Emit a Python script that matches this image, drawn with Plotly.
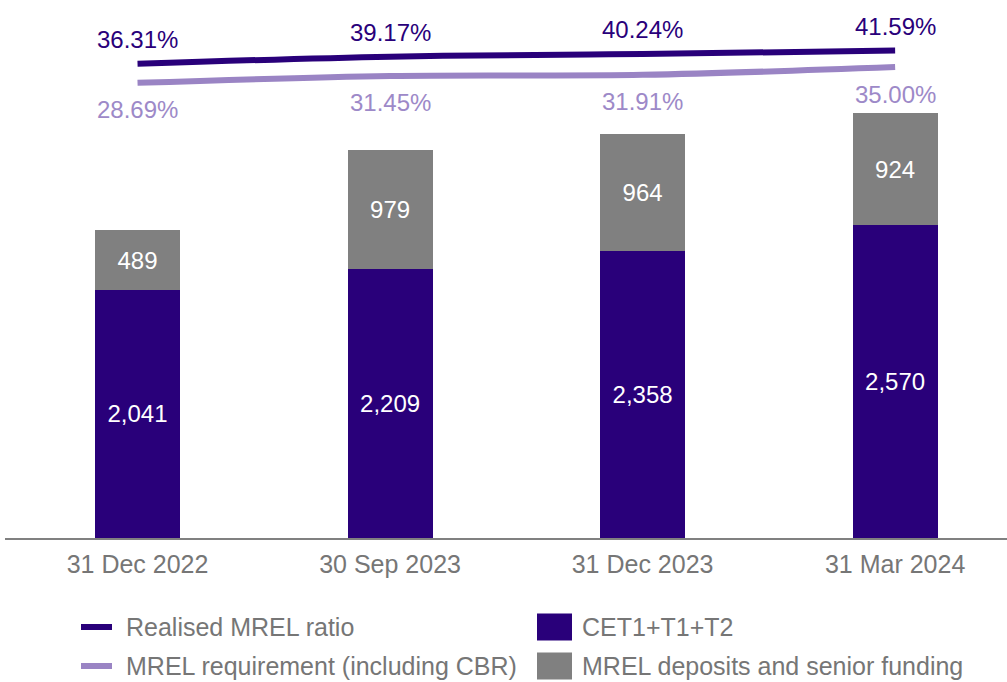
import plotly.graph_objects as go

categories = ["31 Dec 2022", "30 Sep 2023", "31 Dec 2023", "31 Mar 2024"]
cet1_t1_t2 = [2041, 2209, 2358, 2570]
mrel_deposits = [489, 979, 964, 924]
realised_mrel = [36.31, 39.17, 40.24, 41.59]
mrel_requirement = [28.69, 31.45, 31.91, 35.00]

DARK = "#29007A"
LIGHT = "#9A84C4"
GREY = "#808080"
TEXT = "#767676"
FONT = "Liberation Sans, Arial, sans-serif"

W, H = 1007, 682
ML, MR, MT, MB = 5, 0, 0, 144
PLOT_H = H - MT - MB

fig = go.Figure()

fig.add_trace(go.Bar(
    x=categories, y=cet1_t1_t2, name="CET1+T1+T2",
    marker=dict(color=DARK, line=dict(width=0)), width=0.337,
    text=[f"{v:,}" for v in cet1_t1_t2], textposition="inside",
    insidetextanchor="middle", textfont=dict(color="white", size=24, family=FONT),
    constraintext="none", showlegend=False,
))
fig.add_trace(go.Bar(
    x=categories, y=mrel_deposits, name="MREL deposits and senior funding",
    marker=dict(color=GREY, line=dict(width=0)), width=0.337,
    text=[f"{v:,}" for v in mrel_deposits], textposition="inside",
    insidetextanchor="middle", textfont=dict(color="white", size=24, family=FONT),
    constraintext="none", showlegend=False,
))
fig.add_trace(go.Scatter(
    x=categories, y=realised_mrel, name="Realised MREL ratio", yaxis="y2",
    mode="lines", line=dict(color=DARK, width=6, shape="spline"), showlegend=False,
))
fig.add_trace(go.Scatter(
    x=categories, y=mrel_requirement, name="MREL requirement (including CBR)", yaxis="y2",
    mode="lines", line=dict(color=LIGHT, width=6, shape="spline"), showlegend=False,
))

annotations = []
for c, v in zip(categories, realised_mrel):
    annotations.append(dict(x=c, y=v, xref="x", yref="y2", text=f"{v:.2f}%",
                            showarrow=False, yshift=24, yanchor="middle",
                            font=dict(size=24, color=DARK, family=FONT)))
for c, v in zip(categories, mrel_requirement):
    annotations.append(dict(x=c, y=v, xref="x", yref="y2", text=f"{v:.2f}%",
                            showarrow=False, yshift=-27, yanchor="middle",
                            font=dict(size=24, color="#9D89C8", family=FONT)))

# Manual legend (pixel helpers -> paper coords)
def px_x(p):
    return (p - ML) / (W - ML - MR)

def px_y(p):
    return (MT + PLOT_H - p) / PLOT_H

legend_lines = [("Realised MREL ratio", DARK, 627), ("MREL requirement (including CBR)", LIGHT, 666)]
legend_boxes = [("CET1+T1+T2", DARK, 627), ("MREL deposits and senior funding", GREY, 666)]
shapes = []
for name, col, yp in legend_lines:
    shapes.append(dict(type="line", xref="paper", yref="paper",
                       x0=px_x(81), x1=px_x(112), y0=px_y(yp), y1=px_y(yp),
                       line=dict(color=col, width=6)))
    annotations.append(dict(x=px_x(124), y=px_y(yp), xref="paper", yref="paper",
                            text=name, showarrow=False, xanchor="left", yanchor="middle",
                            font=dict(size=25, color=TEXT, family=FONT)))
for name, col, yp in legend_boxes:
    shapes.append(dict(type="rect", xref="paper", yref="paper",
                       x0=px_x(537), x1=px_x(572), y0=px_y(yp - 13.5), y1=px_y(yp + 13.5),
                       fillcolor=col, line=dict(width=0)))
    annotations.append(dict(x=px_x(580), y=px_y(yp), xref="paper", yref="paper",
                            text=name, showarrow=False, xanchor="left", yanchor="middle",
                            font=dict(size=25, color=TEXT, family=FONT)))

fig.update_layout(
    width=W, height=H,
    margin=dict(l=ML, r=MR, t=MT, b=MB, pad=0),
    barmode="stack",
    plot_bgcolor="white", paper_bgcolor="white",
    font=dict(family=FONT, size=24, color=TEXT),
    xaxis=dict(range=[-0.5248, 3.443], showgrid=False, showline=True,
               linecolor=GREY, linewidth=2, ticks="", zeroline=False,
               tickfont=dict(size=25, color=TEXT, family=FONT), ticklabelstandoff=3),
    yaxis=dict(range=[0, 4424], visible=False, showgrid=False, zeroline=False),
    yaxis2=dict(range=[-153.37, 61.83], overlaying="y", visible=False,
                showgrid=False, zeroline=False),
    annotations=annotations,
    shapes=shapes,
    showlegend=False,
    uniformtext=dict(mode=False),
)

fig.write_html("out.html", config={"displayModeBar": False},
               post_script="document.body.style.margin='0px';document.body.style.overflow='hidden';")
